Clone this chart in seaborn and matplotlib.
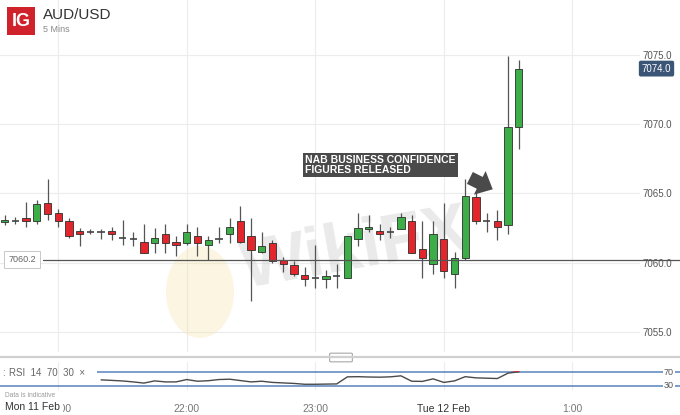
import numpy as np
import pandas as pd
import matplotlib
matplotlib.use("Agg")
import matplotlib.pyplot as plt
import matplotlib.transforms as mtransforms
from matplotlib.patches import Rectangle, FancyBboxPatch, Ellipse
import seaborn as sns

# =========================================================
# DATA  (AUD/USD, 5 min candles, 20:35 -> 00:35)
# =========================================================

opens = [7062.9, 7063.0, 7063.2, 7063.0, 7064.3, 7063.6, 7063.0, 7062.3, 7062.2, 7062.2,
         7062.3, 7061.8, 7061.7, 7061.5, 7061.4, 7062.1, 7061.5, 7061.4, 7061.9, 7061.3,
         7061.7, 7062.1, 7063.0, 7061.9, 7060.8, 7061.4, 7060.2, 7059.8, 7059.1, 7058.9,
         7058.8, 7059.0, 7058.9, 7061.7, 7062.4, 7062.3, 7062.2, 7062.4, 7063.0, 7061.0,
         7059.9, 7061.7, 7059.2, 7060.3, 7064.7, 7063.0, 7063.0, 7062.7, 7069.8]
closes = [7063.1, 7063.0, 7063.0, 7064.2, 7063.5, 7063.0, 7061.9, 7062.1, 7062.2, 7062.2,
          7062.1, 7061.8, 7061.7, 7060.7, 7061.8, 7061.4, 7061.3, 7062.2, 7061.4, 7061.6,
          7061.7, 7062.6, 7061.5, 7060.9, 7061.2, 7060.1, 7059.9, 7059.2, 7058.8, 7058.9,
          7059.0, 7059.0, 7061.9, 7062.5, 7062.6, 7062.1, 7062.2, 7063.3, 7060.7, 7060.3,
          7062.1, 7059.4, 7060.3, 7064.8, 7063.0, 7063.0, 7062.6, 7069.8, 7074.0]
highs = [7063.4, 7063.3, 7064.4, 7064.5, 7066.0, 7063.9, 7063.2, 7062.5, 7062.4, 7062.4,
         7062.6, 7063.1, 7062.2, 7062.8, 7062.5, 7062.8, 7061.9, 7062.8, 7062.6, 7061.9,
         7062.6, 7063.2, 7064.1, 7063.2, 7062.2, 7061.6, 7060.4, 7060.1, 7059.7, 7061.3,
         7059.5, 7059.9, 7061.9, 7063.6, 7063.4, 7062.8, 7062.6, 7063.6, 7063.4, 7063.0,
         7063.0, 7064.3, 7060.8, 7066.0, 7065.1, 7063.6, 7063.8, 7074.9, 7074.6]
lows = [7062.7, 7062.8, 7062.6, 7062.8, 7063.1, 7062.6, 7061.8, 7061.2, 7062.1, 7061.7,
        7061.6, 7061.3, 7061.2, 7060.7, 7060.7, 7060.7, 7060.5, 7061.3, 7060.5, 7060.2,
        7061.4, 7061.4, 7061.4, 7057.2, 7060.7, 7060.0, 7059.3, 7059.0, 7058.3, 7058.2,
        7058.2, 7058.2, 7058.9, 7061.2, 7062.2, 7061.6, 7061.8, 7062.4, 7060.7, 7058.9,
        7059.2, 7058.9, 7058.2, 7060.2, 7062.8, 7062.2, 7061.6, 7062.1, 7068.2]

# RSI(14) from candle 9 onwards
rsi_start = 9
rsi_vals = [48, 46.5, 44.8, 42, 38.5, 45, 42, 42, 49, 44,
            45.5, 49, 50, 46, 42, 44, 40.5, 39, 37.5, 35,
            35, 35.5, 36, 57, 57.5, 56.5, 56, 57, 60, 44,
            43.5, 51, 40.5, 45, 57.5, 54, 53, 52, 68, 72]

price_ticks = [7055, 7060, 7065, 7070, 7075]
time_ticks = [5, 17, 29, 41, 53]
time_labels = ["21:00", "22:00", "23:00", "Tue 12 Feb", "1:00"]
ref_level = 7060.2
last_price = 7074.0

# =========================================================
# STYLE
# =========================================================

sns.set_theme(style="white")
plt.rcParams["font.family"] = ["Liberation Sans", "DejaVu Sans"]

GREEN = "#3cad47"
RED = "#e3262b"
GRID = "#ececec"
BLUE = "#5582bd"

W, H = 680, 415
STEP, FIRST = 10.71, 4.7     # px per candle, px of first candle


def fx(x):
    return x / W


def fy(y):
    return 1 - y / H


fig = plt.figure(figsize=(W / 100, H / 100), dpi=100)

# =========================================================
# MAIN PRICE PANEL
# =========================================================

ax = fig.add_axes([0, fy(352), fx(640), fy(0) - fy(352)])
x_left = -FIRST / STEP
ax.set_xlim(x_left, x_left + 640 / STEP)
ax.set_ylim(7053.55, 7078.95)

df = pd.DataFrame({"i": np.arange(len(opens)), "open": opens, "high": highs,
                   "low": lows, "close": closes})
up = df[df.close > df.open]
dn = df[df.close < df.open]
flat = df[df.close == df.open]

ax.vlines(df.i, df.low, df.high, color="#555555", lw=0.9, zorder=3)
ax.bar(up.i, up.close - up.open, bottom=up.open, width=0.68, color=GREEN,
       edgecolor="#2e2e2e", lw=0.6, zorder=4)
ax.bar(dn.i, dn.open - dn.close, bottom=dn.close, width=0.68, color=RED,
       edgecolor="#2e2e2e", lw=0.6, zorder=4)
ax.hlines(flat.close, flat.i - 0.34, flat.i + 0.34, color="#444444", lw=1.2, zorder=4)

ax.set_xticks(time_ticks)
ax.set_yticks(price_ticks)
ax.yaxis.tick_right()
ax.set_yticklabels([f"{v:.1f}" for v in price_ticks])
ax.tick_params(axis="y", length=0, pad=2, labelsize=7, labelcolor="#555555")
ax.tick_params(axis="x", length=0, labelbottom=False)
ax.grid(True, color=GRID, lw=0.8)
for s in ax.spines.values():
    s.set_visible(False)

# reference line + label
trans = mtransforms.blended_transform_factory(ax.transAxes, ax.transData)
ax.plot([43 / 640, W / 640], [ref_level, ref_level], transform=trans,
        color="#555555", lw=0.9, clip_on=False, zorder=5)
ax.text(22 / 640, ref_level, f"{ref_level:.1f}", transform=trans, ha="center",
        va="center", fontsize=6.5, color="#666666", zorder=6,
        bbox=dict(boxstyle="square,pad=0.45", fc="white", ec="#c8c8c8", lw=0.7))

# last price tag
ax.text(656.5 / 640, last_price, f"{last_price:.1f}", transform=trans,
        ha="center", va="center", fontsize=7, color="white", clip_on=False,
        bbox=dict(boxstyle="round,pad=0.3,rounding_size=0.2", fc="#3b5576", ec="none"))

# watermark
ax.add_patch(Ellipse((200, H - 292), 68, 92, transform=mtransforms.IdentityTransform(),
                     fc="#f4e4aa", ec="none", alpha=0.35, zorder=1))
ax.text(fx(355), fy(250), "WikiFX", transform=fig.transFigure, fontsize=50,
        fontweight="bold", color="#d0d0d0", alpha=0.45, rotation=10,
        ha="center", va="center", zorder=1)

# NAB annotation
ax.text(fx(305), fy(165), "NAB BUSINESS CONFIDENCE\nFIGURES RELEASED",
        transform=fig.transFigure, ha="left", va="center", color="white",
        fontsize=7.5, fontweight="bold", linespacing=1.1, zorder=7,
        bbox=dict(boxstyle="square,pad=0.2", fc="#4a4a4a", ec="none"))
ax.annotate("", xy=(45.8, 7065.2), xytext=(43.2, 7066.2),
            arrowprops=dict(arrowstyle="simple,head_length=0.55,head_width=1.0,tail_width=0.5",
                            mutation_scale=19, fc="#4a4a4a", ec="none"), zorder=7)

# =========================================================
# RSI PANEL
# =========================================================

rax = fig.add_axes([0, fy(390), 1, fy(362) - fy(390)])
rax.set_xlim(x_left, x_left + W / STEP)
rax.set_ylim(18, 101)

rsi_x = np.arange(rsi_start, rsi_start + len(rsi_vals))
x_end = x_left + W / STEP
rax.hlines(70, 8.6, x_end, color=BLUE, lw=1.1, zorder=2)
rax.hlines(30, x_left, x_end, color=BLUE, lw=1.1, zorder=2)
sns.lineplot(x=rsi_x, y=rsi_vals, ax=rax, color="#4a4a4a", lw=1.0, zorder=3)
hot = rax.plot(rsi_x[-2:], rsi_vals[-2:], color="#e3262b", lw=1.2, zorder=4)[0]
hot.set_clip_path(Rectangle((x_left, 70), 100, 60, transform=rax.transData))

for lvl in [70, 30]:
    rax.text(62.0, lvl, str(lvl), ha="center", va="center", fontsize=6.5,
             color="#555555", zorder=5,
             bbox=dict(boxstyle="square,pad=0.1", fc="white", ec="none"))

rax.set_xticks(time_ticks)
rax.set_xticklabels(time_labels)
rax.set_yticks([])
rax.tick_params(axis="x", length=0, pad=10, labelsize=7.5)
for lbl in rax.get_xticklabels():
    lbl.set_color("#333333" if "Feb" in lbl.get_text() else "#777777")
# the 21:00 label sits under the date label, only its tail shows
first_lbl = rax.get_xticklabels()[0]
first_lbl.set_clip_box(mtransforms.Bbox.from_extents(63, 0, W, H))
first_lbl.set_clip_on(True)
rax.grid(True, axis="x", color=GRID, lw=0.8)
rax.set_xlabel("")
rax.set_ylabel("")
for s in rax.spines.values():
    s.set_visible(False)

fig.text(fx(2), fy(373), ":", fontsize=7, color="#666666", va="center")
fig.text(fx(9), fy(373), "RSI  14  70  30  \u00d7", fontsize=7, color="#666666",
         va="center")
fig.text(fx(5), fy(395), "Data is indicative", fontsize=4.8, color="#9a9a9a",
         va="center")
fig.text(fx(5), fy(407), "Mon 11 Feb", fontsize=7.5, color="#333333", va="center")

# scroll bar
fig.add_artist(plt.Line2D([0, 1], [fy(357), fy(357)], transform=fig.transFigure,
                          color="#d0d0d0", lw=1.6))
fig.add_artist(FancyBboxPatch((fx(331), fy(361)), fx(20), 7 / H,
                              boxstyle="round,pad=0.002", transform=fig.transFigure,
                              fc="white", ec="#a8a8a8", lw=0.8))

# =========================================================
# HEADER
# =========================================================

fig.add_artist(Rectangle((fx(7), fy(35)), fx(28), 28 / H, transform=fig.transFigure,
                         fc="#d0222a", ec="none"))
fig.text(fx(21), fy(21), "IG", ha="center", va="center", color="white",
         fontsize=13, fontweight="bold")
fig.text(fx(43), fy(15), "AUD/USD", ha="left", va="center", color="#333333",
         fontsize=11)
fig.text(fx(43), fy(30), "5 Mins", ha="left", va="center", color="#888888",
         fontsize=6.5)

fig.savefig("out.png", dpi=100)
